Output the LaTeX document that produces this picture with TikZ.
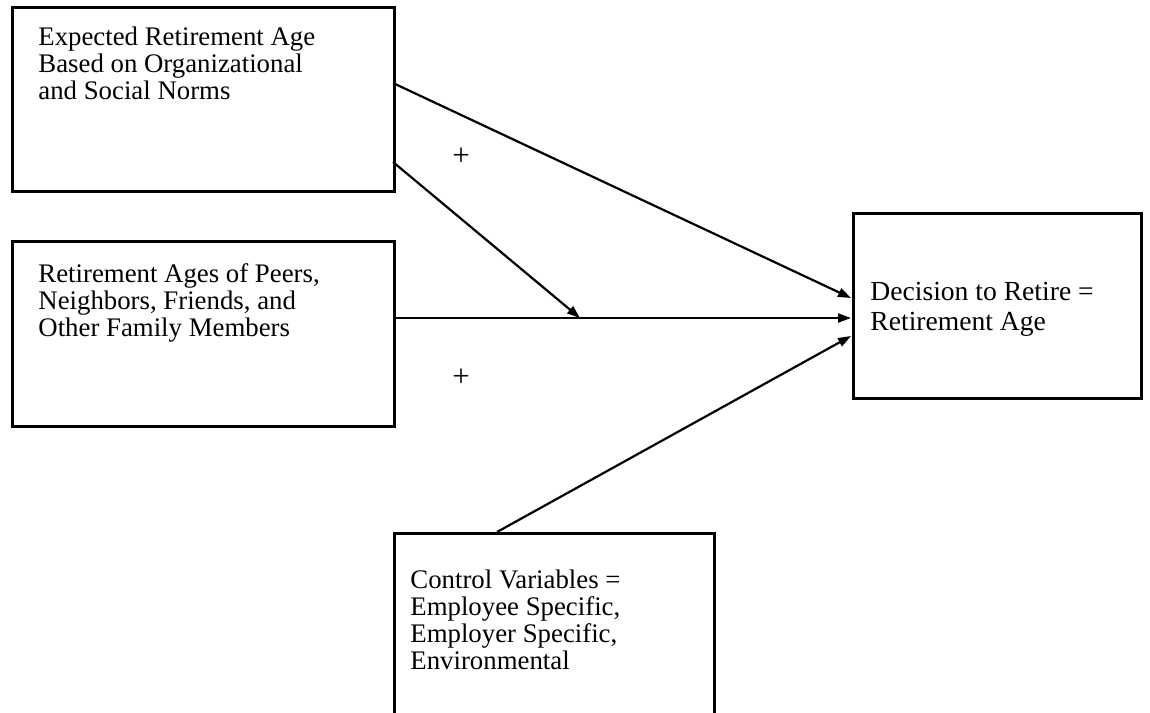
\documentclass[tikz,border=0pt]{standalone}
\usepackage{fontspec}
\setmainfont{Liberation Serif}
\usetikzlibrary{arrows.meta}
\begin{document}
\begin{tikzpicture}[x=0.5pt,y=-0.5pt,
  boxA/.style={draw,line width=1.3pt,inner sep=0pt,anchor=north west},
  txt/.style={anchor=north west,inner sep=0pt,align=left,font=\fontsize{13.4}{13.5}\selectfont},
  conn/.style={line width=1.1pt,-{Triangle[length=6.5pt,width=4.5pt]}},
  sign/.style={inner sep=0pt,font=\fontsize{15.5}{16}\selectfont}]
\useasboundingbox (0,0) rectangle (1150,712);
% boxes
\node[boxA,minimum width=382*0.5pt,minimum height=184*0.5pt] (A) at (11,6) {};
\node[boxA,minimum width=382*0.5pt,minimum height=185*0.5pt] (B) at (11,240) {};
\node[boxA,minimum width=288*0.5pt,minimum height=185*0.5pt] (D) at (852,212) {};
\node[boxA,minimum width=320*0.5pt,minimum height=184*0.5pt] (C) at (393,532) {};
% texts
\node[txt] (tA) at (38,27) {Expected Retirement Age\\Based on Organizational\\and Social Norms};
\node[txt] (tB) at (38,263) {Retirement Ages of Peers,\\Neighbors, Friends, and\\Other Family Members};
\node[txt,font=\fontsize{13.8}{15}\selectfont] (tD) at (870,282) {Decision to Retire =\\Retirement Age};
\node[txt] (tC) at (410,569) {Control Variables =\\Employee Specific,\\Employer Specific,\\Environmental};
% connector endpoints
\coordinate (a1) at (393,83);
\coordinate (a2) at (393,162);
\coordinate (b1) at (393,318);
\coordinate (c1) at (497,532);
\coordinate (d1) at (851,298);
\coordinate (d2) at (851,318);
\coordinate (d3) at (851,336);
\coordinate (m) at (580,318);
\draw[conn] (a1) -- (d1);
\draw[conn] (b1) -- (d2);
\draw[conn] (a2) -- (m);
\draw[conn] (c1) -- (d3);
% signs
\node[sign] (p1) at (461,157) {+};
\node[sign] (p2) at (461,378) {+};
\end{tikzpicture}
\end{document}
